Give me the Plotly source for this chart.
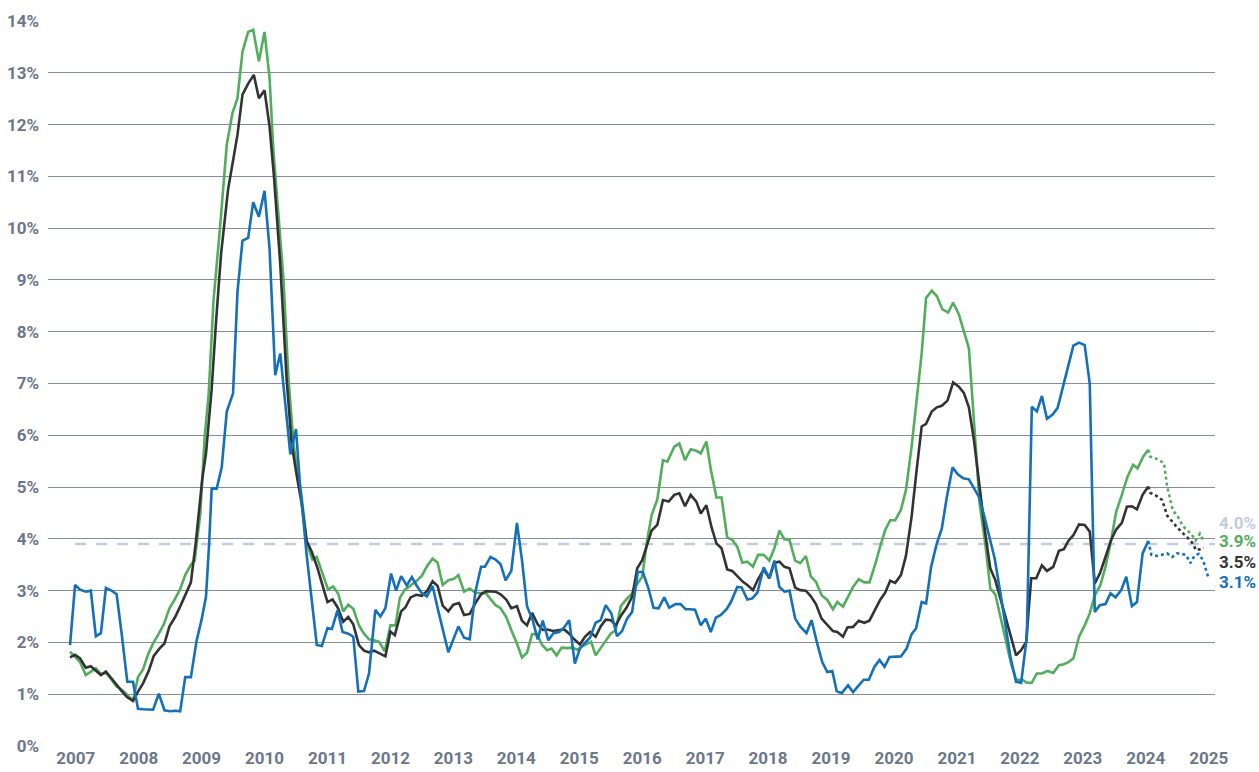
import plotly.graph_objects as go

# ---------------- data (decimal years, percent) ----------------
blue_t = [2006.91, 2006.99, 2007.07, 2007.16, 2007.24, 2007.32, 2007.40, 2007.48, 2007.57, 2007.65,
          2007.73, 2007.82, 2007.91, 2007.99, 2008.07, 2008.23, 2008.32, 2008.41, 2008.50, 2008.58,
          2008.66, 2008.74, 2008.83, 2008.92, 2009.00, 2009.07, 2009.12, 2009.16, 2009.24, 2009.32,
          2009.40, 2009.50, 2009.57, 2009.65, 2009.74, 2009.82, 2009.91, 2010.00, 2010.08, 2010.17,
          2010.25, 2010.41, 2010.50, 2010.56, 2010.67, 2010.75, 2010.83, 2010.91, 2011.00, 2011.07,
          2011.16, 2011.24, 2011.33, 2011.41, 2011.49, 2011.58, 2011.66, 2011.76, 2011.84, 2011.92,
          2012.01, 2012.09, 2012.17, 2012.26, 2012.34, 2012.42, 2012.50, 2012.58, 2012.67, 2012.76,
          2012.84, 2012.92, 2013.08, 2013.17, 2013.26, 2013.35, 2013.44, 2013.50, 2013.59, 2013.67,
          2013.75, 2013.83, 2013.92, 2014.01, 2014.09, 2014.17, 2014.26, 2014.34, 2014.42, 2014.51,
          2014.59, 2014.68, 2014.76, 2014.84, 2014.93, 2015.01, 2015.09, 2015.17, 2015.26, 2015.34,
          2015.42, 2015.51, 2015.60, 2015.68, 2015.76, 2015.84, 2015.93, 2016.01, 2016.10, 2016.18,
          2016.26, 2016.35, 2016.43, 2016.53, 2016.61, 2016.69, 2016.76, 2016.84, 2016.93, 2017.01,
          2017.09, 2017.17, 2017.25, 2017.34, 2017.41, 2017.51, 2017.58, 2017.67, 2017.75, 2017.83,
          2017.93, 2018.02, 2018.10, 2018.18, 2018.26, 2018.34, 2018.43, 2018.51, 2018.61, 2018.69,
          2018.78, 2018.86, 2018.94, 2019.02, 2019.09, 2019.17, 2019.27, 2019.35, 2019.44, 2019.52,
          2019.60, 2019.69, 2019.77, 2019.85, 2019.93, 2020.02, 2020.11, 2020.20, 2020.28, 2020.35,
          2020.44, 2020.51, 2020.59, 2020.68, 2020.76, 2020.84, 2020.93, 2021.01, 2021.10, 2021.19,
          2021.27, 2021.35, 2021.43, 2021.52, 2021.60, 2021.69, 2021.77, 2021.85, 2021.94, 2022.02,
          2022.11, 2022.19, 2022.27, 2022.35, 2022.43, 2022.52, 2022.60, 2022.69, 2022.77, 2022.85,
          2022.94, 2023.03, 2023.11, 2023.19, 2023.27, 2023.36, 2023.44, 2023.52, 2023.61, 2023.69,
          2023.78, 2023.86, 2023.95, 2024.04]
blue_v = [1.95, 3.11, 3.02, 2.98, 3.00, 2.12, 2.18, 3.05, 3.00, 2.93,
          2.17, 1.24, 1.24, 0.72, 0.71, 0.70, 1.01, 0.69, 0.67, 0.68,
          0.67, 1.33, 1.33, 2.03, 2.44, 2.88, 3.91, 4.97, 4.97, 5.38,
          6.46, 6.81, 8.77, 9.76, 9.81, 10.50, 10.22, 10.72, 9.60, 7.16,
          7.58, 5.63, 6.12, 5.10, 3.68, 2.75, 1.95, 1.93, 2.28, 2.26,
          2.62, 2.20, 2.17, 2.11, 1.05, 1.06, 1.40, 2.63, 2.50, 2.66,
          3.33, 3.00, 3.28, 3.10, 3.26, 3.09, 2.95, 2.89, 3.09, 2.61,
          2.20, 1.81, 2.31, 2.09, 2.06, 2.98, 3.46, 3.46, 3.65, 3.60,
          3.51, 3.20, 3.38, 4.31, 3.59, 2.70, 2.43, 2.06, 2.42, 2.04,
          2.18, 2.20, 2.29, 2.43, 1.59, 1.88, 1.99, 2.09, 2.38, 2.43,
          2.72, 2.56, 2.12, 2.22, 2.46, 2.59, 3.36, 3.36, 3.04, 2.67,
          2.66, 2.87, 2.67, 2.74, 2.74, 2.64, 2.64, 2.63, 2.33, 2.46,
          2.20, 2.48, 2.53, 2.64, 2.78, 3.07, 3.06, 2.83, 2.85, 2.96,
          3.45, 3.24, 3.58, 3.07, 2.98, 3.00, 2.46, 2.31, 2.18, 2.43,
          1.98, 1.62, 1.43, 1.45, 1.06, 1.02, 1.17, 1.04, 1.17, 1.28,
          1.28, 1.53, 1.66, 1.53, 1.72, 1.73, 1.73, 1.88, 2.16, 2.27,
          2.78, 2.75, 3.46, 3.91, 4.20, 4.81, 5.38, 5.25, 5.17, 5.15,
          4.97, 4.81, 4.46, 4.04, 3.62, 2.96, 2.37, 1.72, 1.24, 1.22,
          2.10, 6.55, 6.46, 6.76, 6.32, 6.40, 6.53, 6.97, 7.39, 7.73,
          7.79, 7.74, 7.00, 2.59, 2.72, 2.74, 2.95, 2.87, 3.01, 3.27,
          2.70, 2.78, 3.72, 3.96]
blue_fc_t = [2024.04, 2024.09, 2024.18, 2024.26, 2024.34, 2024.42, 2024.50, 2024.58, 2024.64,
             2024.71, 2024.77, 2024.84, 2024.91, 2024.99]
blue_fc_v = [3.96, 3.69, 3.67, 3.69, 3.72, 3.65, 3.72, 3.71, 3.69, 3.53, 3.67, 3.71, 3.59, 3.27]

green_t = [2006.91, 2006.99, 2007.07, 2007.16, 2007.24, 2007.32, 2007.40, 2007.48, 2007.57, 2007.65,
           2007.73, 2007.82, 2007.91, 2007.99, 2008.07, 2008.15, 2008.23, 2008.32, 2008.40, 2008.49,
           2008.57, 2008.66, 2008.74, 2008.83, 2008.89, 2008.98, 2009.05, 2009.11, 2009.19, 2009.29,
           2009.40, 2009.49, 2009.57, 2009.65, 2009.74, 2009.82, 2009.91, 2010.00, 2010.08, 2010.14,
           2010.22, 2010.30, 2010.38, 2010.46, 2010.52, 2010.59, 2010.67, 2010.76, 2010.83, 2010.92,
           2011.01, 2011.09, 2011.17, 2011.25, 2011.33, 2011.41, 2011.50, 2011.58, 2011.66, 2011.74,
           2011.82, 2011.91, 2012.00, 2012.08, 2012.15, 2012.23, 2012.31, 2012.41, 2012.50, 2012.58,
           2012.67, 2012.75, 2012.83, 2012.92, 2013.01, 2013.08, 2013.17, 2013.26, 2013.35, 2013.44,
           2013.52, 2013.60, 2013.67, 2013.75, 2013.84, 2013.92, 2014.01, 2014.09, 2014.17, 2014.25,
           2014.33, 2014.41, 2014.49, 2014.56, 2014.64, 2014.72, 2014.81, 2014.89, 2014.97, 2015.05,
           2015.13, 2015.19, 2015.26, 2015.34, 2015.42, 2015.50, 2015.58, 2015.66, 2015.74, 2015.83,
           2015.91, 2016.00, 2016.08, 2016.15, 2016.24, 2016.33, 2016.40, 2016.51, 2016.59, 2016.68,
           2016.77, 2016.86, 2016.93, 2017.02, 2017.09, 2017.18, 2017.26, 2017.35, 2017.43, 2017.51,
           2017.59, 2017.67, 2017.76, 2017.84, 2017.93, 2018.02, 2018.10, 2018.18, 2018.26, 2018.34,
           2018.43, 2018.51, 2018.60, 2018.68, 2018.76, 2018.85, 2018.94, 2019.03, 2019.10, 2019.19,
           2019.26, 2019.35, 2019.44, 2019.53, 2019.61, 2019.70, 2019.78, 2019.86, 2019.94, 2020.02,
           2020.11, 2020.19, 2020.28, 2020.36, 2020.44, 2020.51, 2020.60, 2020.68, 2020.77, 2020.86,
           2020.94, 2021.03, 2021.11, 2021.19, 2021.27, 2021.36, 2021.45, 2021.53, 2021.61, 2021.70,
           2021.77, 2021.86, 2021.94, 2022.04, 2022.11, 2022.19, 2022.27, 2022.35, 2022.44, 2022.53,
           2022.62, 2022.70, 2022.77, 2022.85, 2022.94, 2023.03, 2023.11, 2023.19, 2023.28, 2023.36,
           2023.45, 2023.53, 2023.62, 2023.71, 2023.80, 2023.87, 2023.96, 2024.04]
green_v = [1.82, 1.71, 1.62, 1.37, 1.44, 1.50, 1.39, 1.41, 1.28, 1.15,
           1.09, 0.98, 0.88, 1.33, 1.48, 1.77, 1.98, 2.17, 2.35, 2.66,
           2.82, 3.03, 3.30, 3.50, 3.58, 4.49, 5.99, 6.75, 8.61, 9.97,
           11.61, 12.22, 12.51, 13.41, 13.79, 13.83, 13.22, 13.79, 12.90, 11.51,
           10.29, 9.03, 7.10, 5.85, 5.30, 4.82, 3.92, 3.60, 3.65, 3.34,
           3.02, 3.08, 2.94, 2.60, 2.73, 2.65, 2.33, 2.17, 2.06, 2.04,
           2.01, 1.83, 2.33, 2.33, 2.86, 3.02, 3.09, 3.18, 3.29, 3.47,
           3.62, 3.54, 3.11, 3.20, 3.23, 3.30, 2.98, 3.04, 2.96, 2.96,
           2.95, 2.82, 2.72, 2.66, 2.49, 2.24, 1.98, 1.71, 1.80, 2.16,
           2.16, 1.95, 1.85, 1.88, 1.75, 1.90, 1.89, 1.90, 1.86, 1.93,
           1.97, 2.01, 1.75, 1.90, 2.03, 2.17, 2.24, 2.70, 2.82, 2.93,
           3.11, 3.27, 3.98, 4.46, 4.76, 5.52, 5.49, 5.78, 5.84, 5.52,
           5.73, 5.70, 5.65, 5.88, 5.34, 4.80, 4.80, 4.03, 3.98, 3.85,
           3.54, 3.56, 3.46, 3.69, 3.69, 3.58, 3.82, 4.16, 3.99, 3.98,
           3.58, 3.53, 3.67, 3.27, 3.17, 2.91, 2.82, 2.64, 2.78, 2.69,
           2.85, 3.07, 3.22, 3.16, 3.16, 3.50, 3.85, 4.17, 4.36, 4.36,
           4.56, 4.94, 5.78, 6.62, 7.58, 8.65, 8.79, 8.69, 8.43, 8.37,
           8.56, 8.34, 8.03, 7.68, 6.29, 4.68, 3.91, 3.04, 2.93, 2.46,
           2.06, 1.59, 1.28, 1.28, 1.22, 1.22, 1.40, 1.40, 1.45, 1.41,
           1.56, 1.58, 1.62, 1.69, 2.11, 2.33, 2.56, 2.91, 3.11, 3.46,
           3.98, 4.52, 4.85, 5.20, 5.43, 5.36, 5.59, 5.72]
green_fc_t = [2024.04, 2024.07, 2024.18, 2024.29, 2024.34, 2024.43, 2024.50, 2024.58, 2024.64,
              2024.72, 2024.79, 2024.86, 2024.91]
green_fc_v = [5.72, 5.59, 5.54, 5.46, 5.01, 4.55, 4.45, 4.27, 4.18, 4.10, 3.97, 4.10, 3.98]

black_t = [2006.91, 2006.99, 2007.07, 2007.16, 2007.24, 2007.32, 2007.40, 2007.48, 2007.57, 2007.65,
           2007.73, 2007.82, 2007.91, 2007.99, 2008.07, 2008.16, 2008.24, 2008.33, 2008.41, 2008.49,
           2008.58, 2008.67, 2008.75, 2008.83, 2008.91, 2009.01, 2009.07, 2009.16, 2009.23, 2009.31,
           2009.42, 2009.49, 2009.57, 2009.65, 2009.74, 2009.83, 2009.91, 2010.00, 2010.08, 2010.15,
           2010.25, 2010.35, 2010.43, 2010.51, 2010.59, 2010.67, 2010.75, 2010.84, 2010.93, 2011.00,
           2011.08, 2011.16, 2011.25, 2011.33, 2011.41, 2011.50, 2011.58, 2011.66, 2011.74, 2011.83,
           2011.92, 2012.00, 2012.07, 2012.17, 2012.24, 2012.32, 2012.41, 2012.50, 2012.58, 2012.67,
           2012.75, 2012.83, 2012.92, 2013.00, 2013.09, 2013.17, 2013.26, 2013.35, 2013.44, 2013.52,
           2013.60, 2013.67, 2013.75, 2013.84, 2013.92, 2014.01, 2014.09, 2014.17, 2014.25, 2014.34,
           2014.42, 2014.50, 2014.58, 2014.67, 2014.76, 2014.84, 2014.92, 2015.01, 2015.09, 2015.17,
           2015.26, 2015.34, 2015.42, 2015.50, 2015.58, 2015.67, 2015.75, 2015.84, 2015.92, 2016.00,
           2016.08, 2016.15, 2016.24, 2016.33, 2016.42, 2016.51, 2016.59, 2016.68, 2016.77, 2016.86,
           2016.93, 2017.02, 2017.10, 2017.18, 2017.26, 2017.35, 2017.43, 2017.51, 2017.60, 2017.67,
           2017.76, 2017.84, 2017.93, 2018.02, 2018.10, 2018.18, 2018.26, 2018.34, 2018.43, 2018.51,
           2018.60, 2018.68, 2018.76, 2018.85, 2018.94, 2019.03, 2019.10, 2019.19, 2019.26, 2019.35,
           2019.44, 2019.53, 2019.61, 2019.70, 2019.78, 2019.86, 2019.94, 2020.02, 2020.11, 2020.19,
           2020.28, 2020.36, 2020.44, 2020.51, 2020.60, 2020.68, 2020.76, 2020.85, 2020.94, 2021.03,
           2021.11, 2021.19, 2021.27, 2021.36, 2021.45, 2021.53, 2021.61, 2021.69, 2021.77, 2021.85,
           2021.94, 2022.02, 2022.10, 2022.18, 2022.26, 2022.35, 2022.43, 2022.53, 2022.62, 2022.70,
           2022.77, 2022.85, 2022.94, 2023.03, 2023.11, 2023.19, 2023.27, 2023.36, 2023.45, 2023.53,
           2023.62, 2023.70, 2023.78, 2023.86, 2023.95, 2024.04]
black_v = [1.71, 1.76, 1.69, 1.51, 1.54, 1.45, 1.37, 1.44, 1.30, 1.18,
           1.06, 0.94, 0.87, 1.05, 1.21, 1.45, 1.74, 1.88, 1.98, 2.31,
           2.49, 2.72, 2.95, 3.16, 3.95, 5.15, 5.65, 6.89, 8.20, 9.51,
           10.74, 11.26, 11.80, 12.58, 12.79, 12.96, 12.51, 12.66, 11.96, 11.00,
           9.30, 7.10, 5.85, 5.23, 4.68, 3.96, 3.75, 3.44, 3.06, 2.78,
           2.83, 2.68, 2.40, 2.49, 2.35, 1.95, 1.84, 1.81, 1.84, 1.78,
           1.73, 2.21, 2.14, 2.60, 2.68, 2.87, 2.92, 2.90, 2.99, 3.18,
           3.09, 2.71, 2.60, 2.73, 2.76, 2.53, 2.55, 2.76, 2.93, 2.99,
           2.99, 2.98, 2.93, 2.83, 2.66, 2.70, 2.42, 2.33, 2.57, 2.35,
           2.24, 2.25, 2.22, 2.24, 2.25, 2.17, 2.06, 1.96, 2.11, 2.20,
           2.11, 2.31, 2.44, 2.43, 2.33, 2.53, 2.67, 2.88, 3.43, 3.59,
           3.91, 4.16, 4.27, 4.75, 4.72, 4.85, 4.88, 4.63, 4.85, 4.72,
           4.49, 4.65, 4.23, 3.91, 3.82, 3.41, 3.38, 3.28, 3.17, 3.11,
           3.01, 3.22, 3.41, 3.24, 3.54, 3.56, 3.46, 3.43, 3.06, 3.01,
           3.00, 2.89, 2.74, 2.46, 2.35, 2.22, 2.20, 2.11, 2.29, 2.30,
           2.42, 2.38, 2.42, 2.62, 2.82, 2.96, 3.19, 3.15, 3.30, 3.67,
           4.43, 5.33, 6.17, 6.22, 6.46, 6.54, 6.57, 6.67, 7.02, 6.94,
           6.82, 6.54, 5.91, 5.01, 4.11, 3.43, 3.20, 2.85, 2.49, 2.17,
           1.75, 1.85, 2.01, 3.24, 3.24, 3.49, 3.38, 3.46, 3.77, 3.80,
           3.96, 4.07, 4.28, 4.27, 4.14, 3.14, 3.33, 3.65, 3.98, 4.18,
           4.31, 4.62, 4.63, 4.57, 4.85, 5.01]
black_fc_t = [2024.04, 2024.07, 2024.17, 2024.26, 2024.34, 2024.42, 2024.50, 2024.58, 2024.66,
              2024.74, 2024.80, 2024.86, 2024.92]
black_fc_v = [5.01, 4.89, 4.83, 4.75, 4.45, 4.33, 4.22, 4.12, 4.03, 3.92, 3.78, 3.80, 3.83]

target_value = 3.9
year_ticks = list(range(2007, 2026))
y_ticks = list(range(0, 15))

end_labels = ["4.0%", "3.9%", "3.5%", "3.1%"]
end_label_pos = [4.31, 3.95, 3.56, 3.17]

# ---------------- styling ----------------
GREEN = "#52ae5c"
BLACK = "#333333"
BLUE = "#1470b8"
TARGET = "#c3cce2"
GRID = "#858e9e"
TICK = "#6b778a"
FONT = "Roboto"

fig = go.Figure()

# target dashed line
fig.add_trace(go.Scatter(x=[2006.99, 2025.1], y=[target_value, target_value], mode="lines",
                         line=dict(color=TARGET, width=2.6, dash="11px,10px"),
                         hoverinfo="skip", showlegend=False))

series = [
    (green_t, green_v, green_fc_t, green_fc_v, GREEN),
    (black_t, black_v, black_fc_t, black_fc_v, BLACK),
    (blue_t, blue_v, blue_fc_t, blue_fc_v, BLUE),
]
for t, v, ft, fv, col in series:
    fig.add_trace(go.Scatter(x=t, y=v, mode="lines", line=dict(color=col, width=2.6),
                             showlegend=False))
    fig.add_trace(go.Scatter(x=ft, y=fv, mode="lines", line=dict(color=col, width=2.6, dash="dot"),
                             showlegend=False))

label_colors = [TARGET, GREEN, BLACK, BLUE]
for txt, pos, col in zip(end_labels, end_label_pos, label_colors):
    fig.add_annotation(xref="paper", x=1.002, yref="y", y=pos, text=txt, showarrow=False,
                       xanchor="left", yanchor="middle",
                       font=dict(family=FONT, size=17, color=col, weight="bold"))

fig.update_layout(
    width=1259, height=772,
    margin=dict(l=48, r=44, t=21, b=26, autoexpand=False),
    plot_bgcolor="white", paper_bgcolor="white",
    font=dict(family=FONT),
)
fig.update_xaxes(range=[2006.56, 2025.10], tickvals=year_ticks, ticktext=[str(y) for y in year_ticks],
                 showgrid=False, zeroline=False, showline=False, ticks="", automargin=False,
                 tickfont=dict(family=FONT, size=17, color=TICK, weight="bold"))
fig.update_yaxes(range=[0, 14], tickvals=y_ticks, ticktext=[f"{y}%" for y in y_ticks],
                 showgrid=True, gridcolor=GRID, gridwidth=1.3, zeroline=False, showline=False,
                 ticks="", ticklabelstandoff=8, automargin=False,
                 tickfont=dict(family=FONT, size=17, color=TICK, weight="bold"))

fig.write_html("out.html", config={"displayModeBar": False},
               post_script="document.body.style.margin='0';document.body.style.overflow='hidden';")
